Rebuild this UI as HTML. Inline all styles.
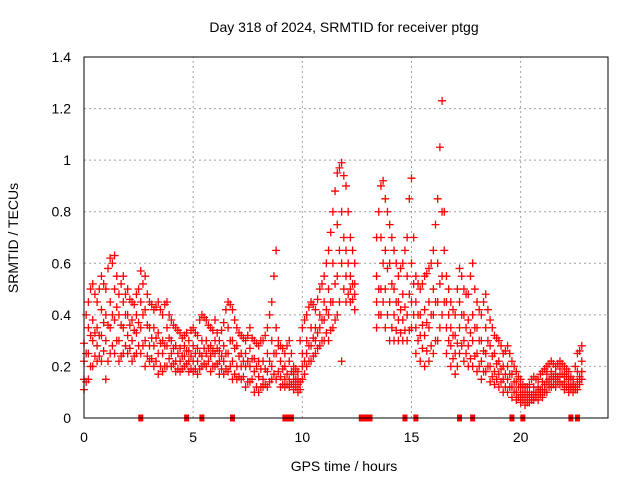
<!DOCTYPE html>
<html><head><meta charset="utf-8"><style>
body{margin:0;background:#fff}
svg{display:block;font-family:"Liberation Sans",sans-serif}
</style></head><body>
<svg id="chart" width="640" height="480" viewBox="0 0 640 480">
<rect width="640" height="480" fill="#fff"/>
<text x="344" y="32" font-size="14" text-anchor="middle">Day 318 of 2024, SRMTID for receiver ptgg</text>
<text x="344" y="471" font-size="14" text-anchor="middle">GPS time / hours</text>
<text transform="translate(18,238) rotate(-90)" font-size="14" text-anchor="middle">SRMTID / TECUs</text>
<g id="grid"></g>
<g id="marks"></g>
<rect x="84" y="57" width="524" height="361" fill="none" stroke="#000" stroke-width="1"/>
<g id="ticks"></g>
</svg>
<script>
const hours=[0,0.2,0.4,0.6,0.8,1,1.2,1.4,1.6,1.8,2,2.2,2.4,2.6,2.8,3,3.2,3.4,3.6,3.8,4,4.2,4.4,4.6,4.8,5,5.2,5.4,5.6,5.8,6,6.2,6.4,6.6,6.8,7,7.2,7.4,7.6,7.8,8,8.2,8.4,8.6,8.8,9,9.2,9.4,9.6,9.8,10,10.2,10.4,10.6,10.8,11,11.2,11.4,11.6,11.8,12,12.2,12.4,13.4,13.6,13.8,14,14.2,14.4,14.6,14.8,15,15.2,15.4,15.6,15.8,16,16.2,16.4,16.6,16.8,17,17.2,17.4,17.6,17.8,18,18.2,18.4,18.6,18.8,19,19.2,19.4,19.6,19.8,20,20.2,20.4,20.6,20.8,21,21.2,21.4,21.6,21.8,22,22.2,22.4,22.6,22.8];
const seriesHigh=[.29,.45,.52,.45,.55,.50,.62,.63,.48,.55,.50,.45,.48,.57,.55,.45,.42,.45,.40,.45,.38,.35,.33,.32,.30,.35,.32,.40,.38,.35,.38,.30,.37,.45,.42,.35,.32,.30,.35,.30,.28,.30,.35,.45,.65,.28,.25,.30,.20,.18,.35,.40,.45,.42,.50,.55,.65,.80,.95,.99,.90,.70,.60,.70,.90,.85,.75,.65,.55,.60,.70,.93,.55,.50,.55,.58,.65,.85,1.23,.55,.45,.40,.58,.50,.48,.60,.45,.40,.48,.38,.32,.30,.25,.28,.22,.18,.15,.12,.13,.16,.15,.18,.20,.22,.20,.22,.20,.18,.15,.25,.28];
const seriesUpper=[.22,.35,.38,.35,.42,.40,.45,.50,.40,.45,.40,.38,.40,.45,.42,.35,.35,.33,.30,.35,.30,.28,.27,.28,.26,.28,.27,.30,.30,.28,.30,.26,.28,.35,.30,.28,.25,.25,.27,.23,.22,.22,.25,.30,.35,.22,.20,.22,.17,.15,.25,.30,.35,.35,.40,.45,.50,.60,.75,.80,.65,.55,.52,.55,.70,.65,.60,.50,.45,.48,.55,.60,.45,.40,.42,.45,.50,.60,.80,.45,.35,.32,.45,.40,.38,.40,.35,.30,.35,.28,.25,.22,.20,.20,.17,.14,.12,.10,.10,.12,.12,.14,.17,.18,.17,.19,.17,.15,.13,.18,.22];
const seriesLower=[.15,.25,.30,.28,.32,.30,.35,.38,.30,.35,.32,.30,.33,.35,.30,.28,.28,.25,.25,.28,.25,.22,.22,.24,.22,.22,.22,.24,.25,.24,.25,.22,.22,.25,.22,.20,.20,.20,.20,.18,.16,.15,.18,.20,.25,.16,.15,.15,.14,.13,.20,.25,.28,.30,.35,.38,.40,.45,.55,.60,.55,.50,.48,.45,.50,.50,.45,.40,.38,.38,.40,.45,.35,.32,.32,.35,.40,.45,.55,.35,.28,.25,.35,.30,.28,.30,.25,.22,.25,.20,.18,.17,.15,.15,.12,.10,.09,.08,.08,.09,.10,.11,.14,.15,.15,.16,.14,.12,.12,.14,.18];
const seriesLow=[.11,.15,.20,.22,.22,.15,.25,.25,.22,.25,.25,.22,.25,.25,.20,.22,.20,.17,.18,.20,.20,.18,.18,.20,.18,.18,.17,.20,.20,.18,.20,.17,.17,.18,.15,.15,.15,.12,.14,.10,.10,.12,.12,.15,.15,.12,.12,.12,.11,.10,.15,.20,.22,.25,.28,.30,.30,.35,.40,.22,.45,.45,.42,.35,.40,.35,.30,.30,.30,.30,.30,.35,.25,.22,.20,.22,.25,.30,.40,.25,.20,.17,.25,.22,.20,.20,.18,.15,.18,.14,.13,.12,.10,.10,.08,.07,.06,.05,.06,.07,.07,.08,.10,.12,.12,.13,.11,.10,.10,.11,.15];
const hoursMid=[0.1,0.3,0.5,0.7,0.9,1.1,1.3,1.5,1.7,1.9,2.1,2.3,2.5,2.7,2.9,3.1,3.3,3.5,3.7,3.9,4.1,4.3,4.5,4.7,4.9,5.1,5.3,5.5,5.7,5.9,6.1,6.3,6.5,6.7,6.9,7.1,7.3,7.5,7.7,7.9,8.1,8.3,8.5,8.7,8.9,9.1,9.3,9.5,9.7,9.9,10.1,10.3,10.5,10.7,10.9,11.1,11.3,11.5,11.7,11.9,12.1,12.3,13.5,13.7,13.9,14.1,14.3,14.5,14.7,14.9,15.1,15.3,15.5,15.7,15.9,16.1,16.3,16.5,16.7,16.9,17.1,17.3,17.5,17.7,17.9,18.1,18.3,18.5,18.7,18.9,19.1,19.3,19.5,19.7,19.9,20.1,20.3,20.5,20.7,20.9,21.1,21.3,21.5,21.7,21.9,22.1,22.3,22.5,22.7];
const midHigh=[.40,.50,.48,.50,.52,.58,.60,.55,.52,.48,.46,.44,.50,.52,.48,.44,.43,.42,.44,.40,.36,.34,.31,.33,.34,.33,.38,.39,.36,.34,.33,.34,.42,.44,.38,.33,.31,.32,.31,.29,.30,.32,.40,.55,.30,.27,.28,.25,.19,.30,.38,.43,.44,.46,.52,.60,.72,.88,.97,.94,.80,.65,.80,.92,.80,.70,.60,.58,.65,.85,.70,.52,.52,.56,.60,.75,1.05,.80,.50,.42,.50,.55,.48,.55,.50,.42,.45,.42,.35,.31,.28,.26,.25,.20,.16,.13,.12,.15,.15,.17,.19,.21,.21,.21,.21,.19,.16,.20,.26];
const midMid=[.25,.32,.33,.32,.37,.36,.40,.43,.36,.40,.36,.34,.37,.40,.36,.31,.31,.29,.28,.31,.27,.25,.24,.26,.24,.25,.25,.27,.27,.26,.27,.24,.25,.30,.27,.24,.22,.22,.23,.20,.19,.19,.22,.25,.28,.19,.17,.18,.15,.14,.22,.28,.31,.33,.38,.42,.45,.52,.65,.70,.60,.52,.50,.60,.58,.52,.45,.42,.43,.48,.52,.40,.36,.37,.40,.45,.52,.65,.40,.32,.29,.40,.35,.33,.35,.30,.26,.30,.24,.21,.19,.17,.17,.14,.12,.10,.09,.09,.10,.11,.13,.15,.16,.16,.17,.16,.13,.12,.16];
const midLow=[.14,.20,.24,.24,.26,.22,.28,.30,.24,.28,.27,.24,.28,.28,.24,.23,.22,.20,.20,.23,.21,.19,.19,.21,.19,.19,.19,.21,.22,.20,.21,.19,.19,.20,.17,.16,.16,.14,.15,.12,.12,.13,.14,.17,.18,.13,.13,.13,.12,.11,.17,.22,.24,.27,.30,.33,.34,.38,.45,.50,.48,.46,.40,.45,.40,.35,.34,.33,.34,.34,.40,.30,.27,.26,.28,.30,.35,.45,.30,.23,.20,.28,.25,.23,.24,.20,.18,.20,.16,.15,.14,.12,.12,.10,.08,.07,.06,.07,.08,.09,.10,.12,.13,.14,.13,.12,.11,.11,.13];
const zeroHours=[2.6,4.7,5.4,6.8,9.2,9.35,9.5,12.7,12.9,13.1,14.7,15.2,17.2,17.8,19.6,20.1,22.3,22.6];
const xTicks=[0,5,10,15,20];
const yTicks=[0,0.2,0.4,0.6,0.8,1,1.2,1.4];
const yTickLabels=["0","0.2","0.4","0.6","0.8","1","1.2","1.4"];

const NS="http://www.w3.org/2000/svg";
const X0=84,X1=608,Y0=418,Y1=57;
const xs=h=>X0+h/24*(X1-X0);
const ys=v=>Y0-v/1.4*(Y0-Y1);
const grid=document.getElementById('grid'),ticks=document.getElementById('ticks'),marks=document.getElementById('marks');
function mk(tag,attrs,parent){const e=document.createElementNS(NS,tag);for(const k in attrs)e.setAttribute(k,attrs[k]);parent.appendChild(e);return e;}
xTicks.forEach(t=>{
  const x=xs(t);
  if(t>0){const g=mk('line',{x1:x,x2:x,y1:Y0,y2:Y1,stroke:'#a0a0a0','stroke-dasharray':'2,3'},grid);
  
  }
  const l=mk('text',{x:x,y:Y0+24,'font-size':14,'text-anchor':'middle'},ticks);l.textContent=t;
  
  
});
yTicks.forEach((t,i)=>{
  const y=ys(t);
  if(t>0&&t<1.4){const g=mk('line',{x1:X0,x2:X1,y1:y,y2:y,stroke:'#a0a0a0','stroke-dasharray':'2,3'},grid);
  
  }
  const l=mk('text',{x:X0-13,y:y+5,'font-size':14,'text-anchor':'end'},ticks);l.textContent=yTickLabels[i];
  
  
});
function plus(h,v){
  const x=xs(h),y=ys(v);
  const p=mk('path',{d:`M${x-4},${y}h8M${x},${y-4}v8`,stroke:'#f00','stroke-width':1.3,fill:'none'},marks);
  
  
}
[seriesHigh,seriesUpper,seriesLower,seriesLow].forEach(s=>{
  s.forEach((v,i)=>plus(hours[i],v));
});
[midHigh,midMid,midLow].forEach(s=>{
  s.forEach((v,i)=>plus(hoursMid[i],v));
});
zeroHours.forEach(h=>{
  const r=mk('rect',{x:xs(h)-2.5,y:Y0-3.5,width:5,height:7,fill:'#f00'},marks);
  
  
});
</script>
</body></html>
